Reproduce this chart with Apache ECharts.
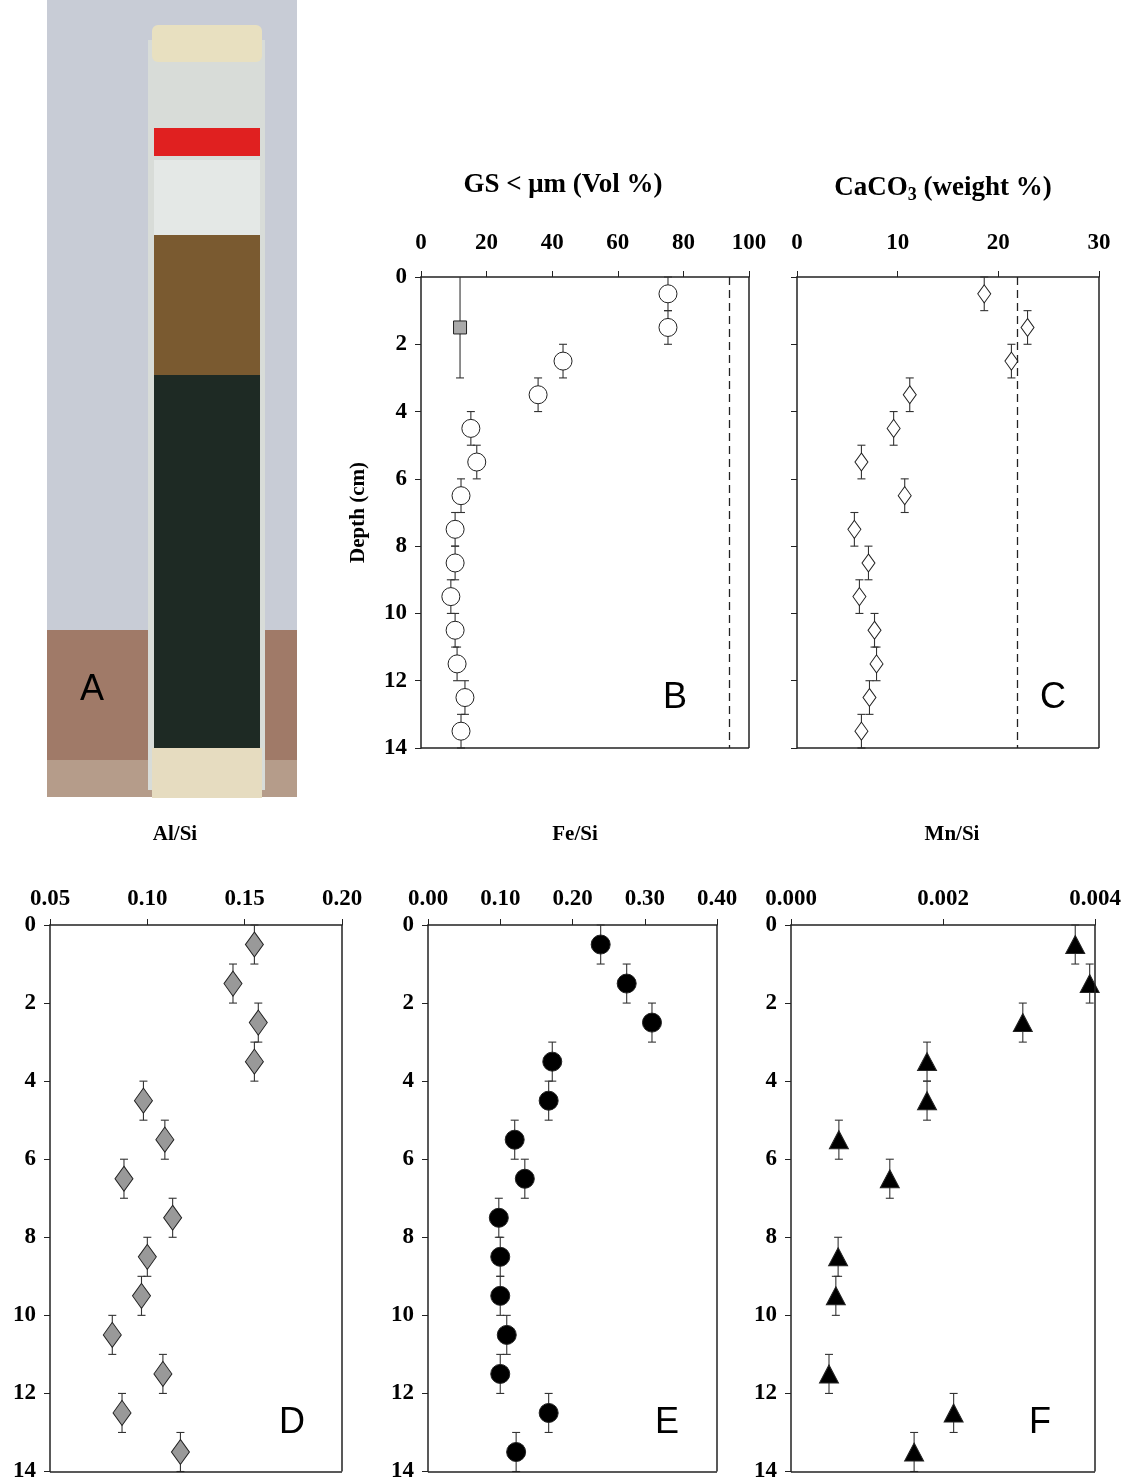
<!DOCTYPE html>
<html><head><meta charset="utf-8">
<script src="https://cdn.jsdelivr.net/npm/echarts@6/dist/echarts.min.js"></script>
<style>html,body{margin:0;background:#fff}#container{width:1129px;height:1483px}</style>
</head><body><div id="container"></div>
<script>
const depth = [0.5, 1.5, 2.5, 3.5, 4.5, 5.5, 6.5, 7.5, 8.5, 9.5, 10.5, 11.5, 12.5, 13.5];
const gsVol = [75.3, 75.3, 43.3, 35.7, 15.2, 17, 12.2, 10.4, 10.4, 9.1, 10.4, 11, 13.4, 12.2];
const gsSquare = [[11.9, 1.5]];
const caco3 = [18.6, 22.9, 21.3, 11.2, 9.6, 6.4, 10.7, 5.7, 7.1, 6.2, 7.7, 7.9, 7.2, 6.4];
const alSi = [0.155, 0.144, 0.157, 0.155, 0.098, 0.109, 0.088, 0.113, 0.100, 0.097, 0.082, 0.108, 0.087, 0.117];
const feSi = [0.239, 0.275, 0.31, 0.172, 0.167, 0.12, 0.134, 0.098, 0.1, 0.1, 0.109, 0.1, 0.167, 0.122];
const mnDepth = [0.5, 1.5, 2.5, 3.5, 4.5, 5.5, 6.5, 8.5, 9.5, 11.5, 12.5, 13.5];
const mnSi = [0.00374, 0.00393, 0.00305, 0.00179, 0.00179, 0.00063, 0.0013, 0.00062, 0.00059, 0.0005, 0.00214, 0.00162];
const gsLimit = 94;
const caco3Limit = 21.9;

const serif = 'Liberation Serif';
const pairs = (xs, ys) => xs.map((v, i) => [v, ys[i]]);

const grids = [
  {left: 421, top: 277, width: 328, height: 471},
  {left: 797, top: 277, width: 302, height: 471},
  {left: 50, top: 925, width: 292, height: 547},
  {left: 428, top: 925, width: 289, height: 547},
  {left: 791, top: 925, width: 304, height: 547}
];
const xDefs = [
  {min: 0, max: 100, interval: 20, fmt: v => v},
  {min: 0, max: 30, interval: 10, fmt: v => v},
  {min: 0.05, max: 0.20, interval: 0.05, fmt: v => v.toFixed(2)},
  {min: 0, max: 0.40, interval: 0.10, fmt: v => v.toFixed(2)},
  {min: 0, max: 0.004, interval: 0.002, fmt: v => v.toFixed(3)}
];
const axisLine = {show: true, lineStyle: {color: '#222', width: 1.5}};
const xAxis = xDefs.map((d, i) => ({
  gridIndex: i, type: 'value', position: 'top', min: d.min, max: d.max, interval: d.interval,
  axisLine, axisTick: {show: true, length: 6, lineStyle: {color: '#222'}}, splitLine: {show: false},
  axisLabel: {formatter: d.fmt, fontFamily: serif, fontWeight: 'bold', fontSize: 23, color: '#000', margin: i < 2 ? 22 : 14}
}));
const yAxis = grids.map((g, i) => ({
  gridIndex: i, type: 'value', inverse: true, min: 0, max: 14, interval: 2,
  axisLine, axisTick: {show: true, length: 6, lineStyle: {color: '#222'}}, splitLine: {show: false},
  axisLabel: {show: i !== 1, fontFamily: serif, fontWeight: 'bold', fontSize: 23, color: '#000', margin: 14},
  name: i === 0 ? 'Depth (cm)' : '', nameLocation: 'middle', nameGap: 52, nameRotate: 90,
  nameTextStyle: {fontFamily: serif, fontWeight: 'bold', fontSize: 21, color: '#000'}
}));
// frame: right + bottom lines
const frames = grids.map((g, i) => ({
  type: 'line', xAxisIndex: i, yAxisIndex: i, silent: true, symbol: 'none', data: [],
  markLine: {silent: true, symbol: 'none', label: {show: false}, lineStyle: {color: '#222', width: 1.5, type: 'solid'},
    data: [[{coord: [xDefs[i].max, 0]}, {coord: [xDefs[i].max, 14]}], [{coord: [xDefs[i].min, 14]}, {coord: [xDefs[i].max, 14]}]]}
}));
function errBars(i, data) {
  return {
    type: 'custom', xAxisIndex: i, yAxisIndex: i, silent: true, z: 1, data,
    renderItem: (params, api) => {
      const x = api.value(0), y = api.value(1);
      const a = api.coord([x, y - 0.5]), b = api.coord([x, y + 0.5]);
      const st = {stroke: '#333', lineWidth: 1.1};
      return {type: 'group', children: [
        {type: 'line', shape: {x1: a[0], y1: a[1], x2: b[0], y2: b[1]}, style: st},
        {type: 'line', shape: {x1: a[0] - 4, y1: a[1], x2: a[0] + 4, y2: a[1]}, style: st},
        {type: 'line', shape: {x1: b[0] - 4, y1: b[1], x2: b[0] + 4, y2: b[1]}, style: st}
      ]};
    }
  };
}
function scatter(i, data, symbol, size, color) {
  return {type: 'scatter', xAxisIndex: i, yAxisIndex: i, data, symbol, symbolSize: size, z: 3,
    itemStyle: {color, borderColor: '#222', borderWidth: 1, opacity: 1}};
}
function vline(i, x) {
  return {type: 'line', xAxisIndex: i, yAxisIndex: i, data: [], symbol: 'none',
    markLine: {silent: true, symbol: 'none', label: {show: false}, lineStyle: {color: '#222', type: [8, 5], width: 1.3},
      data: [[{coord: [x, 0]}, {coord: [x, 14]}]]}};
}
const gsPts = pairs(gsVol, depth), caPts = pairs(caco3, depth), alPts = pairs(alSi, depth), fePts = pairs(feSi, depth), mnPts = pairs(mnSi, mnDepth);
const series = [
  ...frames,
  vline(0, gsLimit), vline(1, caco3Limit),
  errBars(0, gsPts),
  {type: 'custom', xAxisIndex: 0, yAxisIndex: 0, silent: true, z: 1, data: gsSquare,
    renderItem: (p, api) => {
      const a = api.coord([api.value(0), 0]), b = api.coord([api.value(0), 3]);
      const st = {stroke: '#333', lineWidth: 1.1};
      return {type: 'group', children: [
        {type: 'line', shape: {x1: a[0], y1: a[1], x2: b[0], y2: b[1]}, style: st},
        {type: 'line', shape: {x1: b[0] - 4, y1: b[1], x2: b[0] + 4, y2: b[1]}, style: st}]};
    }},
  scatter(0, gsPts, 'circle', 18, '#fff'),
  scatter(0, gsSquare, 'rect', 13, '#aaa'),
  errBars(1, caPts), scatter(1, caPts, 'diamond', [13, 18], '#fff'),
  errBars(2, alPts), scatter(2, alPts, 'diamond', [18, 25], '#999'),
  errBars(3, fePts), scatter(3, fePts, 'circle', 19, '#000'),
  errBars(4, mnPts), scatter(4, mnPts, 'triangle', [19, 18], '#000')
];
const titleStyle = {fontFamily: serif, fontWeight: 'bold', fill: '#000', align: 'center'};
const letters = [['B', 675, 698], ['C', 1053, 698], ['D', 292, 1423], ['E', 667, 1423], ['F', 1040, 1423]];
const graphic = [
  // photo placeholder (panel A)
  {type: 'rect', shape: {x: 47, y: 0, width: 250, height: 797}, style: {fill: '#c8ccd6'}},
  {type: 'rect', shape: {x: 47, y: 630, width: 250, height: 167}, style: {fill: '#a07a68'}},
  {type: 'rect', shape: {x: 47, y: 760, width: 250, height: 37}, style: {fill: '#b59c8a'}},
  {type: 'rect', shape: {x: 148, y: 40, width: 117, height: 750}, style: {fill: '#d8dcd8'}},
  {type: 'rect', shape: {x: 152, y: 25, width: 110, height: 37, r: 6}, style: {fill: '#e8e0c0'}},
  {type: 'rect', shape: {x: 154, y: 128, width: 106, height: 28}, style: {fill: '#e02020'}},
  {type: 'rect', shape: {x: 154, y: 160, width: 106, height: 75}, style: {fill: '#e4e8e6'}},
  {type: 'rect', shape: {x: 154, y: 235, width: 106, height: 140}, style: {fill: '#7a5a30'}},
  {type: 'rect', shape: {x: 154, y: 375, width: 106, height: 375}, style: {fill: '#1e2a24'}},
  {type: 'rect', shape: {x: 152, y: 748, width: 110, height: 50}, style: {fill: '#e6dcc0'}},
  {type: 'text', x: 92, y: 690, style: {text: 'A', font: '36px "Liberation Sans"', fill: '#000', align: 'center', verticalAlign: 'middle'}},
  {type: 'text', x: 563, y: 172, style: {...titleStyle, text: 'GS < μm (Vol %)', fontSize: 27}},
  {type: 'text', x: 943, y: 172, style: {...titleStyle, text: '{n|CaCO}{s|3}{n| (weight %)}', rich: {n: {fontFamily: serif, fontWeight: 'bold', fontSize: 27}, s: {fontFamily: serif, fontWeight: 'bold', fontSize: 18, padding: [14, 0, 0, 0]}}}},
  {type: 'text', x: 175, y: 824, style: {...titleStyle, text: 'Al/Si', fontSize: 21}},
  {type: 'text', x: 575, y: 824, style: {...titleStyle, text: 'Fe/Si', fontSize: 21}},
  {type: 'text', x: 952, y: 824, style: {...titleStyle, text: 'Mn/Si', fontSize: 21}},
  ...letters.map(([t, x, y]) => ({type: 'text', x, y, style: {text: t, font: '36px "Liberation Sans"', fill: '#000', align: 'center', verticalAlign: 'middle'}}))
];
const chart = echarts.init(document.getElementById('container'));
chart.setOption({animation: false, backgroundColor: '#fff', grid: grids, xAxis, yAxis, series, graphic});
</script></body></html>
